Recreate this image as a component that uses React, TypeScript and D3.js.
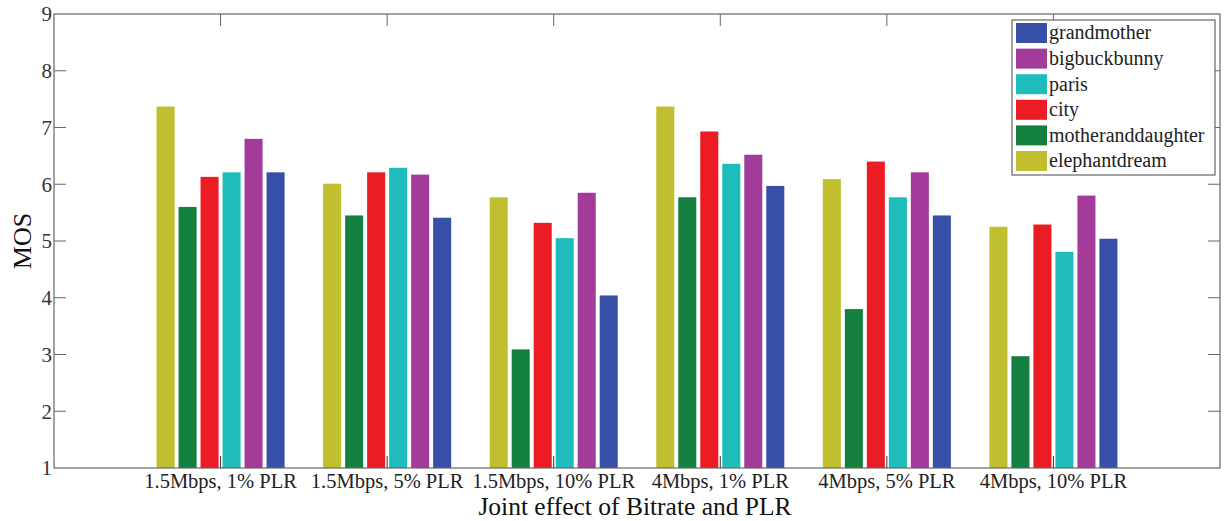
import React, { useEffect, useRef } from 'react';
import * as d3 from 'd3';

const GROUPS = [
  '1.5Mbps, 1% PLR',
  '1.5Mbps, 5% PLR',
  '1.5Mbps, 10% PLR',
  '4Mbps, 1% PLR',
  '4Mbps, 5% PLR',
  '4Mbps, 10% PLR',
];

// bar order inside a group, left to right
const SERIES = ['elephantdream', 'motheranddaughter', 'city', 'paris', 'bigbuckbunny', 'grandmother'];
const COLORS = ['#bfbf30', '#138040', '#ec1c24', '#1fbcbc', '#a23b9a', '#3550a6'];

const elephantdream = [7.37, 6.01, 5.77, 7.37, 6.09, 5.25];
const motheranddaughter = [5.6, 5.45, 3.09, 5.77, 3.8, 2.97];
const city = [6.13, 6.21, 5.32, 6.93, 6.4, 5.29];
const paris = [6.21, 6.29, 5.05, 6.36, 5.77, 4.81];
const bigbuckbunny = [6.8, 6.17, 5.85, 6.52, 6.21, 5.8];
const grandmother = [6.21, 5.41, 4.04, 5.97, 5.45, 5.04];

const VALUES = [elephantdream, motheranddaughter, city, paris, bigbuckbunny, grandmother];
const Y_TICKS = [1, 2, 3, 4, 5, 6, 7, 8, 9];

const FONT = '"Liberation Serif", "Times New Roman", serif';

const App = () => {
  const svgRef = useRef<SVGSVGElement>(null);

  useEffect(() => {
    const W = 1225, H = 521;
    const margin = { top: 14, right: 5, bottom: 53, left: 54 };
    const x0 = margin.left, x1 = W - margin.right;
    const y0 = H - margin.bottom, y1 = margin.top;

    const svg = d3.select(svgRef.current);
    svg.selectAll('*').remove();
    svg.attr('width', W).attr('height', H);

    const x = d3.scaleLinear().domain([0, GROUPS.length + 1]).range([x0, x1]);
    const y = d3.scaleLinear().domain([1, 9]).range([y0, y1]);
    const inner = d3.scaleBand<number>()
      .domain(d3.range(SERIES.length))
      .range([-66, 66])
      .paddingInner(0.18)
      .paddingOuter(0.09);

    svg.append('rect').attr('width', W).attr('height', H).attr('fill', '#fff');

    // bars
    SERIES.forEach((s, si) => {
      svg.append('g')
        .selectAll('rect')
        .data(VALUES[si])
        .enter()
        .append('rect')
        .attr('x', (d, gi) => x(gi + 1) + (inner(si) as number))
        .attr('y', d => y(d))
        .attr('width', inner.bandwidth())
        .attr('height', d => y(1) - y(d))
        .attr('fill', COLORS[si]);
    });

    const axisColor = '#666';
    const tickLen = 12;

    // box
    svg.append('rect')
      .attr('x', x0).attr('y', y1)
      .attr('width', x1 - x0).attr('height', y0 - y1)
      .attr('fill', 'none').attr('stroke', axisColor).attr('stroke-width', 1.2);

    // y ticks (left and right, inward)
    Y_TICKS.forEach(t => {
      if (t === 1 || t === 9) return;
      svg.append('line')
        .attr('x1', x0).attr('x2', x0 + tickLen)
        .attr('y1', y(t)).attr('y2', y(t))
        .attr('stroke', axisColor);
      svg.append('line')
        .attr('x1', x1).attr('x2', x1 - tickLen)
        .attr('y1', y(t)).attr('y2', y(t))
        .attr('stroke', axisColor);
    });
    svg.append('g')
      .selectAll('text')
      .data(Y_TICKS)
      .enter()
      .append('text')
      .attr('x', x0 - 2)
      .attr('y', d => y(d))
      .attr('dy', '0.35em')
      .attr('text-anchor', 'end')
      .style('font-family', FONT)
      .style('font-size', '21px')
      .style('fill', '#333')
      .text(d => d);

    // x ticks (bottom and top, inward)
    GROUPS.forEach((g, gi) => {
      svg.append('line')
        .attr('x1', x(gi + 1)).attr('x2', x(gi + 1))
        .attr('y1', y0).attr('y2', y0 - tickLen)
        .attr('stroke', '#333');
      svg.append('line')
        .attr('x1', x(gi + 1)).attr('x2', x(gi + 1))
        .attr('y1', y1).attr('y2', y1 + tickLen)
        .attr('stroke', axisColor);
    });
    svg.append('g')
      .selectAll('text')
      .data(GROUPS)
      .enter()
      .append('text')
      .attr('x', (d, i) => x(i + 1))
      .attr('y', y0 + 20)
      .attr('text-anchor', 'middle')
      .style('font-family', FONT)
      .style('font-size', '20.5px')
      .style('fill', '#222')
      .text(d => d);

    // axis titles
    svg.append('text')
      .attr('x', 635)
      .attr('y', y0 + 47)
      .attr('text-anchor', 'middle')
      .style('font-family', FONT)
      .style('font-size', '25.5px')
      .style('fill', '#111')
      .text('Joint effect of Bitrate and PLR');

    svg.append('text')
      .attr('transform', `translate(31,${(y0 + y1) / 2}) rotate(-90)`)
      .attr('text-anchor', 'middle')
      .style('font-family', FONT)
      .style('font-size', '26px')
      .style('fill', '#111')
      .text('MOS');

    // legend, reversed order like MATLAB
    const lx = 1012, ly = 20, lw = 203, rowH = 25.6;
    const legend = svg.append('g');
    legend.append('rect')
      .attr('x', lx).attr('y', ly)
      .attr('width', lw).attr('height', 155)
      .attr('fill', '#fff').attr('stroke', axisColor).attr('stroke-width', 1.2);
    const order = d3.range(SERIES.length).reverse();
    order.forEach((si, row) => {
      const cy = ly + 13 + row * rowH;
      legend.append('rect')
        .attr('x', lx + 4).attr('y', cy - 10)
        .attr('width', 31).attr('height', 20)
        .attr('fill', COLORS[si]);
      legend.append('text')
        .attr('x', lx + 37).attr('y', cy)
        .attr('dy', '0.32em')
        .style('font-family', FONT)
        .style('font-size', '20px')
        .style('fill', '#222')
        .text(SERIES[si]);
    });
  }, []);

  return (
    <div style={{ position: 'absolute', left: 0, top: 0 }}>
      <svg ref={svgRef} style={{ display: 'block' }}></svg>
    </div>
  );
};

export default App;
